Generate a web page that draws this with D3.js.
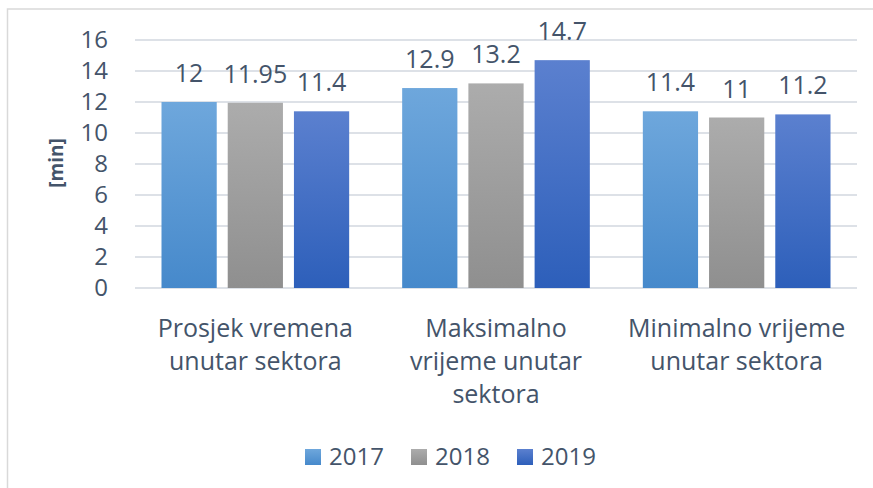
<!DOCTYPE html>
<html>
<head>
<meta charset="utf-8">
<script src="https://cdn.jsdelivr.net/npm/d3@7"></script>
<style>
  html, body { margin: 0; padding: 0; background: #fff; }
  svg { display: block; font-family: "Open Sans", sans-serif; }
</style>
</head>
<body>
<div id="chart"></div>
<script>
// Chart data
const categories = [
  ["Prosjek vremena", "unutar sektora"],
  ["Maksimalno", "vrijeme unutar", "sektora"],
  ["Minimalno vrijeme", "unutar sektora"]
];
const series = ["2017", "2018", "2019"];
const values2017 = [12, 12.9, 11.4];
const values2018 = [11.95, 13.2, 11];
const values2019 = [11.4, 14.7, 11.2];
const valueLabels = [
  ["12", "12.9", "11.4"],
  ["11.95", "13.2", "11"],
  ["11.4", "14.7", "11.2"]
];
const yTicks = [0, 2, 4, 6, 8, 10, 12, 14, 16];

const width = 873, height = 488;
const margin = { top: 40, right: 16, bottom: 200, left: 135 };
const textColor = "#44546A";

const svg = d3.select("#chart").append("svg")
  .attr("width", width)
  .attr("height", height);

// gradients for each series
const gradStops = [
  ["#6ea7dc", "#4689cb"],
  ["#acacac", "#8f8f8f"],
  ["#5b80cf", "#2d5fba"]
];
const defs = svg.append("defs");
gradStops.forEach((s, i) => {
  const g = defs.append("linearGradient")
    .attr("id", "grad" + i)
    .attr("x1", 0).attr("y1", 0).attr("x2", 0).attr("y2", 1);
  g.append("stop").attr("offset", "0%").attr("stop-color", s[0]);
  g.append("stop").attr("offset", "100%").attr("stop-color", s[1]);
});

// outer border
svg.append("rect")
  .attr("x", 7.5).attr("y", 9)
  .attr("width", 900).attr("height", 520)
  .attr("fill", "none")
  .attr("stroke", "#d9d9d9")
  .attr("stroke-width", 1.5);

const innerW = width - margin.left - margin.right;
const innerH = 288 - margin.top;

const g = svg.append("g")
  .attr("transform", `translate(${margin.left},${margin.top})`);

const x0 = d3.scaleBand()
  .domain(d3.range(categories.length))
  .range([0, innerW])
  .padding(0);

const x1 = d3.scaleBand()
  .domain(series)
  .range([26.5, x0.bandwidth() - 26.5])
  .paddingInner(0.166);

const y = d3.scaleLinear()
  .domain([0, 16])
  .range([innerH, 0]);

// gridlines
g.append("g")
  .selectAll("line")
  .data(yTicks)
  .join("line")
  .attr("x1", 0)
  .attr("x2", innerW)
  .attr("y1", d => y(d))
  .attr("y2", d => y(d))
  .attr("stroke", "#dde1e7")
  .attr("stroke-width", 2);

// y axis labels
const yAxis = g.append("g")
  .call(d3.axisLeft(y).tickValues(yTicks).tickSize(0).tickPadding(27));
yAxis.select(".domain").remove();
yAxis.selectAll("text")
  .attr("fill", textColor)
  .style("font-size", "24px")
  .style("font-family", "Open Sans, sans-serif");

// y axis title
svg.append("text")
  .attr("transform", "translate(63,163) rotate(-90)")
  .attr("text-anchor", "middle")
  .attr("fill", textColor)
  .style("font-size", "19px")
  .style("font-weight", "bold")
  .text("[min]");

// bars
const allValues = [values2017, values2018, values2019];
const groups = g.selectAll(".group")
  .data(categories)
  .join("g")
  .attr("class", "group")
  .attr("transform", (d, i) => `translate(${x0(i)},0)`);

groups.each(function(cat, ci) {
  const grp = d3.select(this);
  series.forEach((s, si) => {
    const v = allValues[si][ci];
    grp.append("rect")
      .attr("x", x1(s))
      .attr("y", y(v))
      .attr("width", x1.bandwidth())
      .attr("height", innerH - y(v))
      .attr("fill", `url(#grad${si})`);
    grp.append("text")
      .attr("x", x1(s) + x1.bandwidth() / 2)
      .attr("y", y(v) - 20)
      .attr("text-anchor", "middle")
      .attr("fill", textColor)
      .style("font-size", "25px")
      .text(valueLabels[si][ci]);
  });
});

// category labels
categories.forEach((lines, ci) => {
  const t = g.append("text")
    .attr("text-anchor", "middle")
    .attr("fill", textColor)
    .style("font-size", "25px");
  lines.forEach((line, li) => {
    t.append("tspan")
      .attr("x", x0(ci) + x0.bandwidth() / 2)
      .attr("y", 337 - margin.top + li * 33)
      .text(line);
  });
});

// legend
const legendX = [305, 411, 517];
const legend = svg.append("g");
series.forEach((s, i) => {
  legend.append("rect")
    .attr("x", legendX[i])
    .attr("y", 449)
    .attr("width", 16)
    .attr("height", 16)
    .attr("fill", `url(#grad${i})`);
  legend.append("text")
    .attr("x", legendX[i] + 24)
    .attr("y", 465)
    .attr("fill", textColor)
    .style("font-size", "24px")
    .text(s);
});
</script>
</body>
</html>
